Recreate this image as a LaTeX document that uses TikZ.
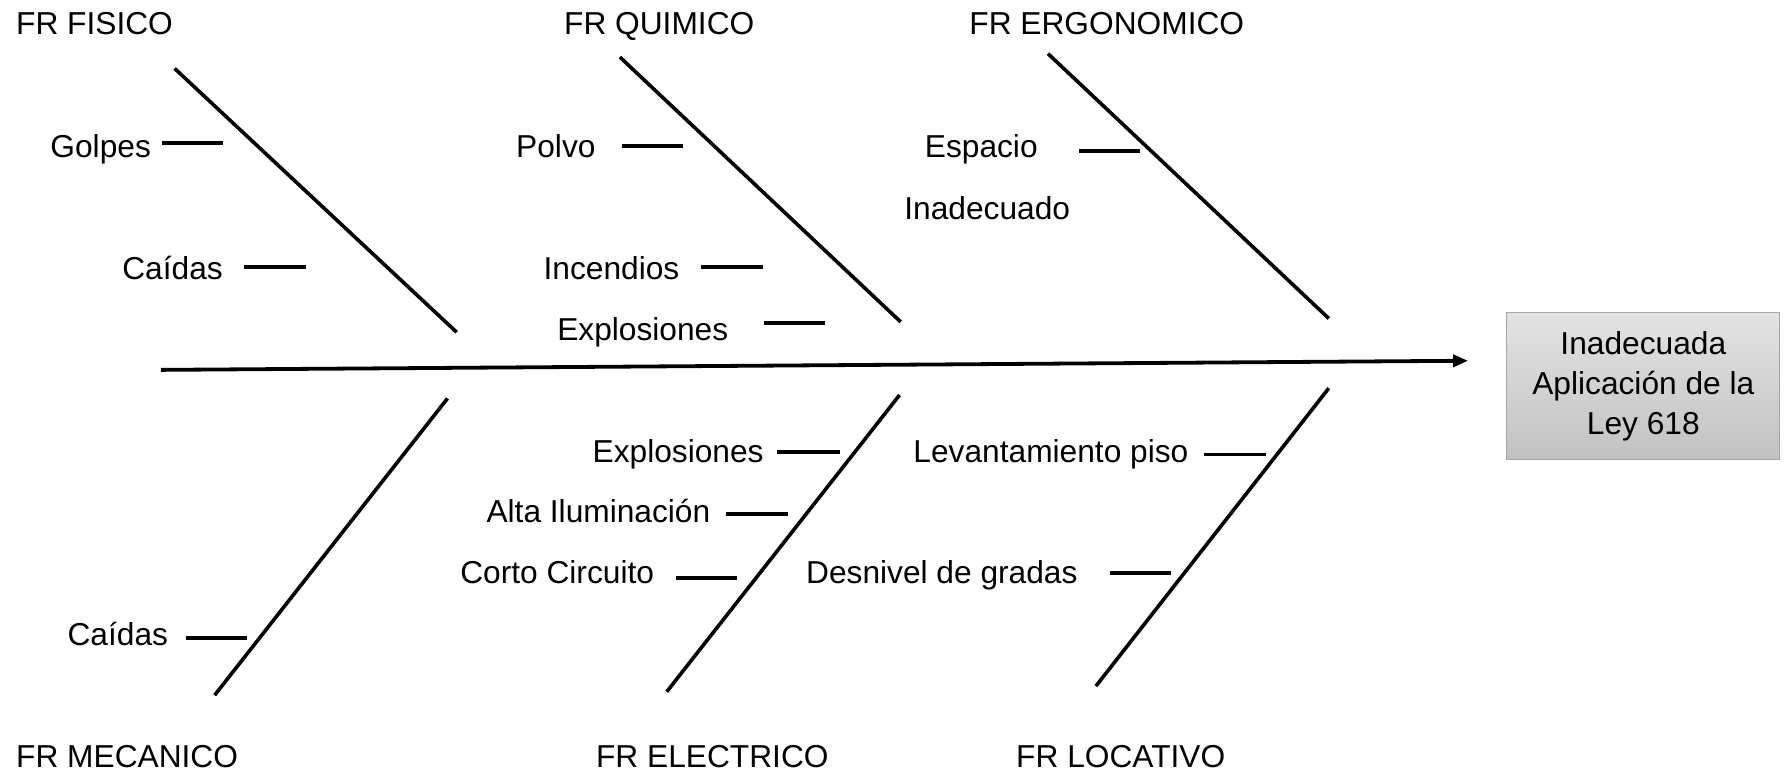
\documentclass[tikz,border=0pt]{standalone}
\usepackage{fontspec}
\setmainfont{Liberation Sans}
\usetikzlibrary{arrows.meta}
\begin{document}
\begin{tikzpicture}[x=1.1416pt,y=-1.1416pt,
  lbl/.style={anchor=base west,inner sep=0pt,yshift=-11.5pt,font=\fontsize{31.7}{38}\selectfont},
  bone/.style={line width=3.6pt},
  tick/.style={line width=3.7pt},
  spine/.style={line width=3.8pt,-{Triangle[length=15pt,width=12pt]}},
  effect/.style={draw=gray!70,line width=1pt,top color=gray!22,bottom color=gray!48,
    minimum width=273pt,minimum height=147pt,inner sep=0pt,align=center,
    font=\fontsize{31.7}{40}\selectfont}]
\useasboundingbox (0,0) rectangle (1568,677);
% main spine and effect
\coordinate (s0) at (141,324);
\node[effect] (eff) at (1439.5,338.5) {Inadecuada\\Aplicación de la\\Ley 618};
\coordinate (s1) at (1286,316);
\draw[spine] (s0) -- (s1);
% category labels
\node[lbl] (fis) at (14,20) {FR FISICO};
\node[lbl] (qui) at (494,20) {FR QUIMICO};
\node[lbl] (erg) at (849,20) {FR ERGONOMICO};
\node[lbl] (mec) at (14,662) {FR MECANICO};
\node[lbl] (ele) at (522,662) {FR ELECTRICO};
\node[lbl] (loc) at (890,662) {FR LOCATIVO};
% bones
\coordinate (f1) at (153,60);  \coordinate (f2) at (400,291);
\coordinate (q1) at (543,50);  \coordinate (q2) at (789,282);
\coordinate (e1) at (918,47);  \coordinate (e2) at (1164,279);
\coordinate (m1) at (392,349); \coordinate (m2) at (188,609);
\coordinate (c1) at (788,346); \coordinate (c2) at (584,606);
\coordinate (l1) at (1164,340);\coordinate (l2) at (960,601);
\draw[bone] (f1) -- (f2);
\draw[bone] (q1) -- (q2);
\draw[bone] (e1) -- (e2);
\draw[bone] (m1) -- (m2);
\draw[bone] (c1) -- (c2);
\draw[bone] (l1) -- (l2);
% causes
\node[lbl] (golpes) at (44,128) {Golpes};
\coordinate (t1a) at (142,125); \coordinate (t1b) at (195,125);
\draw[tick] (t1a) -- (t1b);
\node[lbl] (caidas1) at (107,235) {Caídas};
\coordinate (t2a) at (214,234); \coordinate (t2b) at (268,234);
\draw[tick] (t2a) -- (t2b);
\node[lbl] (polvo) at (452,128) {Polvo};
\coordinate (t3a) at (545,128); \coordinate (t3b) at (598,128);
\draw[tick] (t3a) -- (t3b);
\node[lbl] (incend) at (476,235) {Incendios};
\coordinate (t4a) at (614,234); \coordinate (t4b) at (668,234);
\draw[tick] (t4a) -- (t4b);
\node[lbl] (expl1) at (488,288) {Explosiones};
\coordinate (t5a) at (669,283); \coordinate (t5b) at (723,283);
\draw[tick] (t5a) -- (t5b);
\node[lbl] (espacio) at (810,128) {Espacio};
\node[lbl] (inadec) at (792,182) {Inadecuado};
\coordinate (t6a) at (945,132); \coordinate (t6b) at (999,132);
\draw[tick] (t6a) -- (t6b);
\node[lbl] (caidas2) at (59,555) {Caídas};
\coordinate (t7a) at (163,559); \coordinate (t7b) at (216,559);
\draw[tick] (t7a) -- (t7b);
\node[lbl] (expl2) at (519,395) {Explosiones};
\coordinate (t8a) at (681,396); \coordinate (t8b) at (736,396);
\draw[tick] (t8a) -- (t8b);
\node[lbl] (alta) at (426,448) {Alta Iluminación};
\coordinate (t9a) at (636,450); \coordinate (t9b) at (690,450);
\draw[tick] (t9a) -- (t9b);
\node[lbl] (corto) at (403,501) {Corto Circuito};
\coordinate (t10a) at (592,506); \coordinate (t10b) at (646,506);
\draw[tick] (t10a) -- (t10b);
\node[lbl] (levant) at (800,395) {Levantamiento piso};
\coordinate (t11a) at (1055,398); \coordinate (t11b) at (1109,398);
\draw[tick] (t11a) -- (t11b);
\node[lbl] (desniv) at (706,501) {Desnivel de gradas};
\coordinate (t12a) at (972,502); \coordinate (t12b) at (1026,502);
\draw[tick] (t12a) -- (t12b);
\end{tikzpicture}
\end{document}
